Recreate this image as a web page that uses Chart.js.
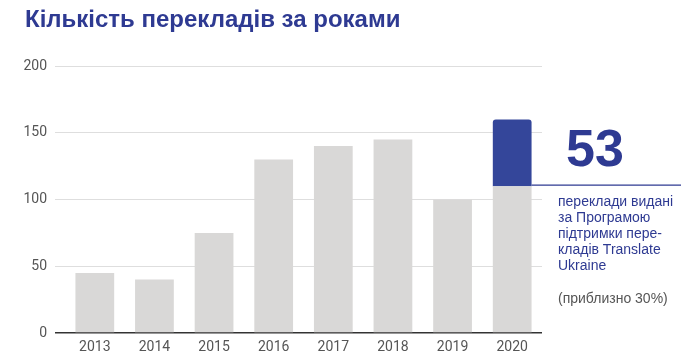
<!DOCTYPE html>
<html>
<head>
<meta charset="utf-8">
<script src="https://cdn.jsdelivr.net/npm/chart.js@4.4.1/dist/chart.umd.min.js"></script>
<style>
  html, body { margin: 0; padding: 0; background: #fff; }
  #wrap { width: 681px; height: 363px; }
</style>
</head>
<body>
<div id="wrap"><canvas id="chart"></canvas></div>
<script>
const years = ["2013", "2014", "2015", "2016", "2017", "2018", "2019", "2020"];
const otherBooks = [45, 40, 75, 130, 140, 145, 100, 110];
const programBooks = [0, 0, 0, 0, 0, 0, 0, 50];
const yTicks = [0, 50, 100, 150, 200];

const titleText = "Кількість перекладів за роками";
const bigNumber = "53";
const noteLines = ["переклади видані", "за Програмою", "підтримки пере-", "кладів Translate", "Ukraine"];
const noteShare = "(приблизно 30%)";

const darkBlue = "#2e3a92";
const barBlue = "#34469a";
const barGrey = "#d9d8d7";

// title, the line at the split of the 2020 bar and the side note
const extras = {
    id: "extras",
    afterDraw(chart) {
        const c = chart.ctx;
        const area = chart.chartArea;
        const y = chart.scales.y;
        const meta = chart.getDatasetMeta(0);
        const last = meta.data[meta.data.length - 1];

        c.save();
        c.fillStyle = darkBlue;
        c.font = "bold 24px 'Liberation Sans', Arial, sans-serif";
        c.textBaseline = "alphabetic";
        c.textAlign = "left";
        c.fillText(titleText, 25, 27);

        const splitY = y.getPixelForValue(otherBooks[otherBooks.length - 1]);
        c.strokeStyle = darkBlue;
        c.lineWidth = 1.2;
        c.beginPath();
        c.moveTo(last.x + last.width / 2, splitY - 1);
        c.lineTo(chart.width, splitY - 1);
        c.stroke();

        const textX = area.right + 16;
        c.font = "bold 52px 'Liberation Sans', Arial, sans-serif";
        c.textAlign = "center";
        c.fillText(bigNumber, textX + 37, splitY - 20);

        c.textAlign = "left";
        c.font = "14px 'Liberation Sans', Arial, sans-serif";
        noteLines.forEach((line, i) => {
            c.fillText(line, textX, splitY + 20 + i * 16);
        });
        c.fillStyle = "#555";
        c.fillText(noteShare, textX, splitY + 117);
        c.restore();
    }
};

const config = {
    type: "bar",
    data: {
        labels: years,
        datasets: [
            {
                label: "Інші переклади",
                data: otherBooks,
                backgroundColor: barGrey,
                barPercentage: 0.65,
                categoryPercentage: 1,
                borderSkipped: false,
            },
            {
                label: "Програма Translate Ukraine",
                data: programBooks,
                backgroundColor: barBlue,
                barPercentage: 0.65,
                categoryPercentage: 1,
                borderRadius: { topLeft: 3, topRight: 3 },
                borderSkipped: "bottom",
            },
        ],
    },
    options: {
        responsive: true,
        maintainAspectRatio: false,
        animation: false,
        layout: { padding: { left: 8, right: 139, top: 66, bottom: 0 } },
        plugins: {
            legend: { display: false },
            tooltip: { enabled: false },
        },
        scales: {
            x: {
                stacked: true,
                grid: { display: false, drawTicks: false },
                border: { display: false },
                ticks: {
                    color: "#555",
                    padding: 6,
                    font: { family: "Roboto", size: 14 },
                },
                afterFit(scale) { scale.height = 30; },
            },
            y: {
                stacked: true,
                min: 0,
                max: 200,
                afterBuildTicks(scale) { scale.ticks = yTicks.map(v => ({ value: v })); },
                grid: {
                    color: (ctx) => ctx.tick && ctx.tick.value === 0 ? "#333" : "#dedede",
                    lineWidth: (ctx) => ctx.tick && ctx.tick.value === 0 ? 1.5 : 1,
                    tickLength: 10,
                    drawTicks: true,
                },
                border: { display: false },
                ticks: {
                    color: "#555",
                    padding: 8,
                    font: { family: "Roboto", size: 14 },
                },
                afterFit(scale) { scale.width = 57; },
            },
        },
    },
    plugins: [extras],
};

new Chart(document.getElementById("chart"), config);
</script>
</body>
</html>
